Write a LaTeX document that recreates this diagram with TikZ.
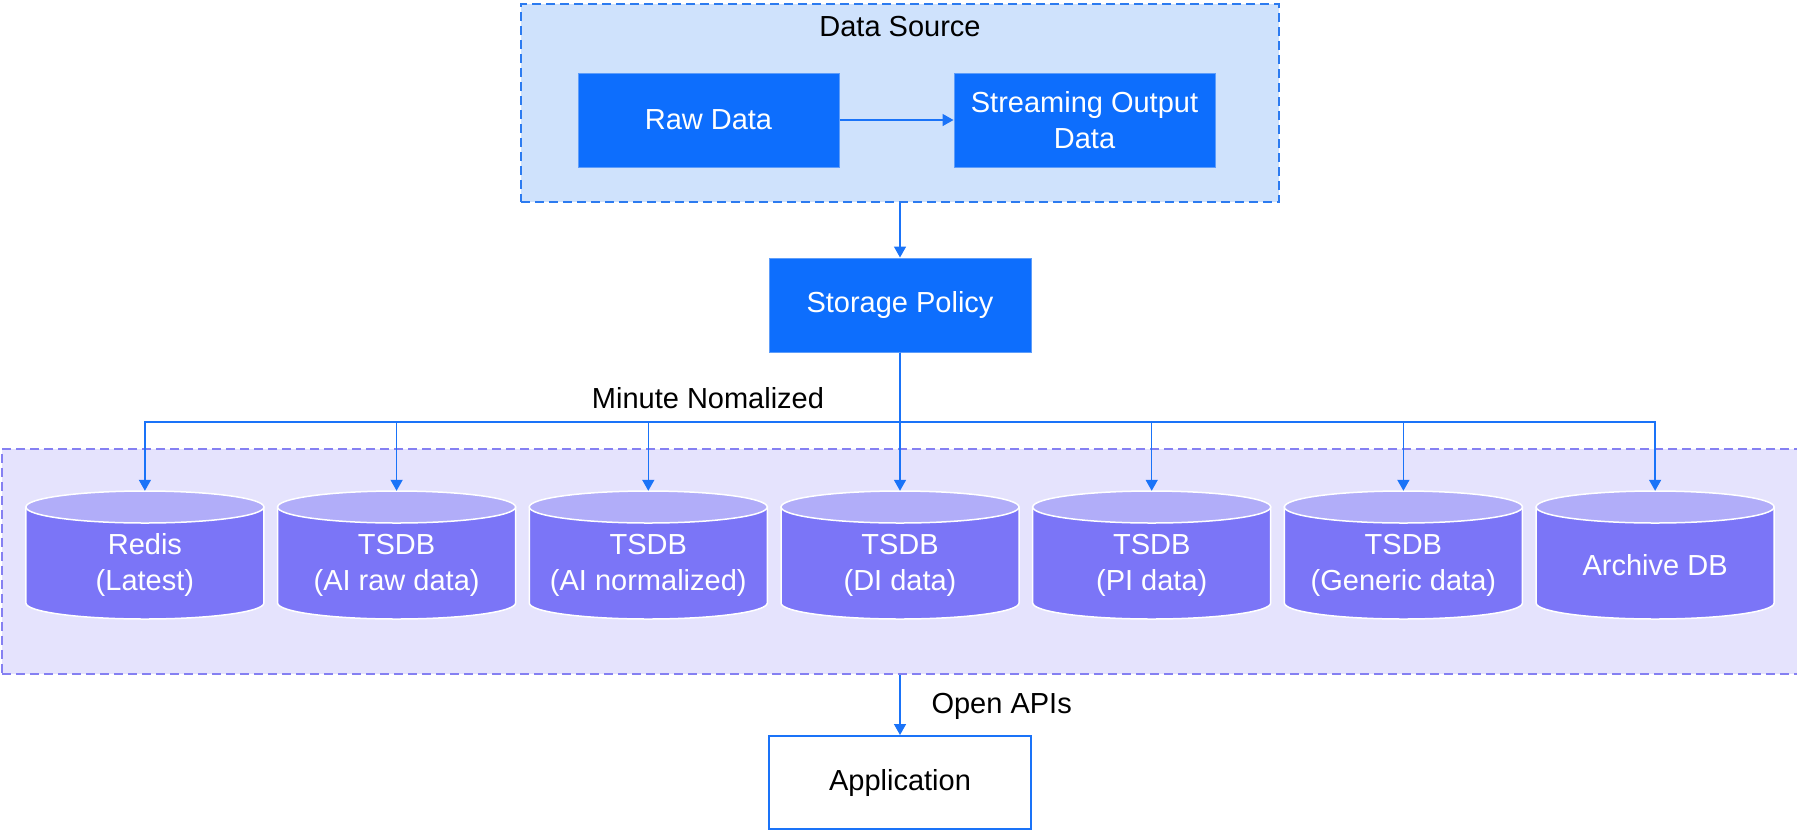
\documentclass[tikz,border=0pt]{standalone}
\usepackage{fontspec}
\setmainfont{Liberation Sans}
\usetikzlibrary{arrows.meta,positioning}

\definecolor{srcfill}{HTML}{CFE2FC}
\definecolor{srcline}{HTML}{2C7BF0}
\definecolor{boxblue}{HTML}{0D6EFD}
\definecolor{boxedge}{HTML}{5E9DFA}
\definecolor{lowfill}{HTML}{E5E3FD}
\definecolor{lowline}{HTML}{8580F2}
\definecolor{dbbody}{HTML}{7B75F7}
\definecolor{dbtop}{HTML}{B1ADF9}
\definecolor{arrblue}{HTML}{1A73F8}

\begin{document}
\begin{tikzpicture}[x=1pt,y=-1pt,
   every node/.style={font=\fontsize{29}{36}\selectfont},
   group/.style={rectangle,line width=2pt,dash pattern=on 9pt off 5pt},
   blk/.style={rectangle,fill=boxblue,draw=boxedge,line width=1pt,text=white,
      minimum width=261pt,minimum height=94pt,align=center,inner sep=0pt},
   db/.style={rectangle,minimum width=238pt,minimum height=148pt,text=white,
      align=center,inner sep=0pt},
   dbline/.style={draw=white,line width=1.5pt},
   arr/.style={draw=arrblue,line width=1.5pt,-{Triangle[width=12pt,length=11pt]}}]
   \useasboundingbox (0,0) rectangle (1797,831);

   \node[group,draw=srcline,fill=srcfill,minimum width=758pt,minimum height=198pt] (src) at (900,103) {};
   \node (src_title) at (900,27) {Data Source};
   \node[blk] (raw) at (708.5,120) {Raw Data};
   \node[blk] (stream) at (1084.5,120) {Streaming Output\\Data};

   \node[blk,minimum width=262pt] (policy) at (900,305) {Storage Policy};

   \node[group,draw=lowline,fill=lowfill,minimum width=1796pt,minimum height=225pt] (store) at (900,561.5) {};
   \coordinate (bus) at (900,422);
   \node (bus_label) at (708,398) {Minute Nomalized};
   \foreach \name [count=\i from 0] in {Redis\\(Latest),TSDB\\(AI raw data),TSDB\\(AI normalized),
         TSDB\\(DI data),TSDB\\(PI data),TSDB\\(Generic data),Archive DB}{
      \pgfmathsetmacro\cx{144.9+251.7*\i}
      \filldraw[dbline,fill=dbbody] (\cx-119,507) -- (\cx-119,603)
         arc[start angle=180,end angle=0,x radius=119,y radius=16] -- (\cx+119,507) -- cycle;
      \filldraw[dbline,fill=dbtop] (\cx,507) ellipse[x radius=119,y radius=16];
      \node[db] (db\i) at (\cx,565) {\name};
   }

   \node[rectangle,draw=arrblue,line width=2pt,fill=white,minimum width=262pt,minimum height=93pt] (app) at (900,782.5) {Application};
   \node[anchor=west] (api_label) at (928,706) {Open APIs};

   \draw[arr] (raw) -- (stream);
   \draw[arr] (src.south) -- (policy.north);
   \draw[arr] (store.south) -- (app.north);
   \foreach \i in {0,...,6}
      \draw[arr] (policy.south) -- (bus) -| (db\i.north);
\end{tikzpicture}
\end{document}
